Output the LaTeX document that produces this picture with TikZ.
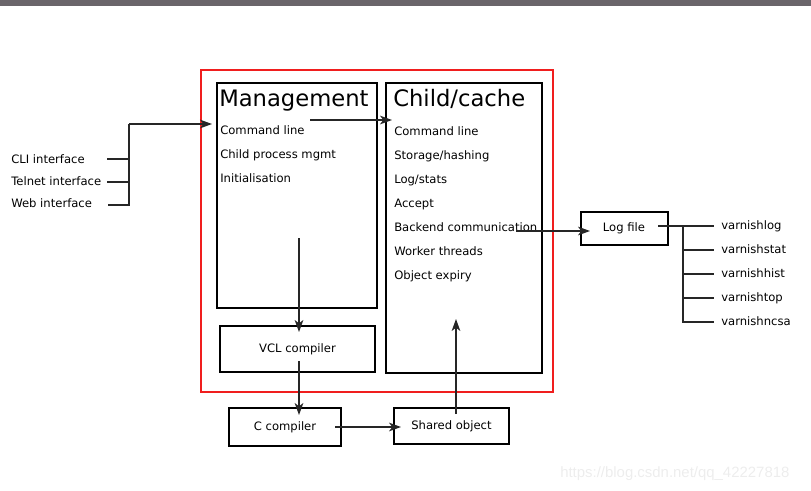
\documentclass[tikz,border=0pt]{standalone}
\usepackage{fontspec}
\setmainfont{DejaVu Sans}
\newfontfamily\markfont{Liberation Sans}
\usetikzlibrary{arrows.meta}
\definecolor{topbar}{RGB}{106,101,106}
\definecolor{hostred}{RGB}{240,30,30}

\begin{document}
\begin{tikzpicture}[x=0.75pt, y=-0.75pt,
	every node/.style={font=\fontsize{8.7}{10}\selectfont, inner sep=0pt},
	box/.style={draw, line width=1.5pt, text height=0.72em, text depth=0.2em},
	item/.style={anchor=base west},
	title/.style={anchor=base west, font=\fontsize{17}{20}\selectfont},
	wire/.style={draw=black!85, line width=0.85pt},
	arr/.style={wire, -{Stealth[length=9pt, width=6.5pt, inset=2.5pt]}}]
	\useasboundingbox (0,0) rectangle (811,490);
	\fill[topbar] (0,0) rectangle (811,6);
	% boxes
	\node[draw=hostred, line width=1.5pt, minimum width=264pt, minimum height=241.5pt] (host) at (377,231) {};
	\node[box, minimum width=120pt, minimum height=168.75pt] (mgmt) at (297,195.5) {};
	\node[box, minimum width=117pt, minimum height=217.5pt] (child) at (464,228) {};
	\node[box, minimum width=116.25pt, minimum height=34.5pt] (vcl) at (297.5,349) {VCL compiler};
	\node[box, minimum width=84pt, minimum height=28.5pt] (cc) at (285,427) {C compiler};
	\node[box, minimum width=86.25pt, minimum height=27pt] (so) at (451.5,426) {Shared object};
	\node[box, minimum width=65.25pt, minimum height=24.75pt] (log) at (624,228.5) {Log file};
	% texts
	\node[title] (mgmtT) at (219,106) {Management};
	\node[item] (m1) at (220,134) {Command line};
	\node[item] (m2) at (220,158) {Child process mgmt};
	\node[item] (m3) at (220,182) {Initialisation};
	\node[title] (childT) at (393,106) {Child/cache};
	\node[item] (c1) at (394,135) {Command line};
	\node[item] (c2) at (394,159) {Storage/hashing};
	\node[item] (c3) at (394,183) {Log/stats};
	\node[item] (c4) at (394,207) {Accept};
	\node[item] (c5) at (394,231) {Backend communication};
	\node[item] (c6) at (394,255) {Worker threads};
	\node[item] (c7) at (394,279) {Object expiry};
	\node[item] (cli) at (11,163) {CLI interface};
	\node[item] (tel) at (11,185.5) {Telnet interface};
	\node[item] (web) at (11,207.5) {Web interface};
	\node[item] (vlog) at (721,229) {varnishlog};
	\node[item] (vstat) at (721,253) {varnishstat};
	\node[item] (vhist) at (721,277) {varnishhist};
	\node[item] (vtop) at (721,301) {varnishtop};
	\node[item] (vncsa) at (721,325) {varnishncsa};
	\node[anchor=base west, text=black!7, font=\markfont\fontsize{11.2}{13}\selectfont] (mark) at (560,477) {https://blog.csdn.net/qq\_42227818};
	% connectors
	\coordinate (bus) at (129,124);
	\coordinate (cliE) at (107,159);
	\coordinate (telE) at (107,182);
	\coordinate (webE) at (108,205);
	\coordinate (mgmtIn) at (212,124);
	\draw[wire] (cliE) -- (cliE -| bus);
	\draw[wire] (telE) -- (telE -| bus);
	\draw[wire] (webE) -- (webE -| bus) -- (bus);
	\draw[arr] (bus) -- (mgmtIn);
	\coordinate (m2c) at (310,120);
	\coordinate (c2in) at (392,120);
	\draw[arr] (m2c) -- (c2in);
	\coordinate (mgmtOut) at (299,238);
	\coordinate (vclIn) at (299,332);
	\draw[arr] (mgmtOut) -- (vclIn);
	\coordinate (vclOut) at (299,361);
	\coordinate (ccIn) at (299,415);
	\draw[arr] (vclOut) -- (ccIn);
	\coordinate (ccOut) at (335,427);
	\coordinate (soIn) at (401,427);
	\draw[arr] (ccOut) -- (soIn);
	\coordinate (soOut) at (456,414);
	\coordinate (childIn) at (456,319);
	\draw[arr] (soOut) -- (childIn);
	\coordinate (beOut) at (516,231);
	\coordinate (logIn) at (590,231);
	\draw[arr] (beOut) -- (logIn);
	\coordinate (logOut) at (658,226);
	\coordinate (tap) at (683,226);
	\coordinate (t1) at ([shift={(-5.25pt,2.25pt)}]vlog.base west);
	\coordinate (t2) at ([shift={(-5.25pt,2.25pt)}]vstat.base west);
	\coordinate (t3) at ([shift={(-5.25pt,2.25pt)}]vhist.base west);
	\coordinate (t4) at ([shift={(-5.25pt,2.25pt)}]vtop.base west);
	\coordinate (t5) at ([shift={(-5.25pt,2.25pt)}]vncsa.base west);
	\draw[wire] (logOut) -- (t1);
	\draw[wire] (tap) -- (tap |- t5) -- (t5);
	\draw[wire] (tap |- t2) -- (t2);
	\draw[wire] (tap |- t3) -- (t3);
	\draw[wire] (tap |- t4) -- (t4);
\end{tikzpicture}
\end{document}
